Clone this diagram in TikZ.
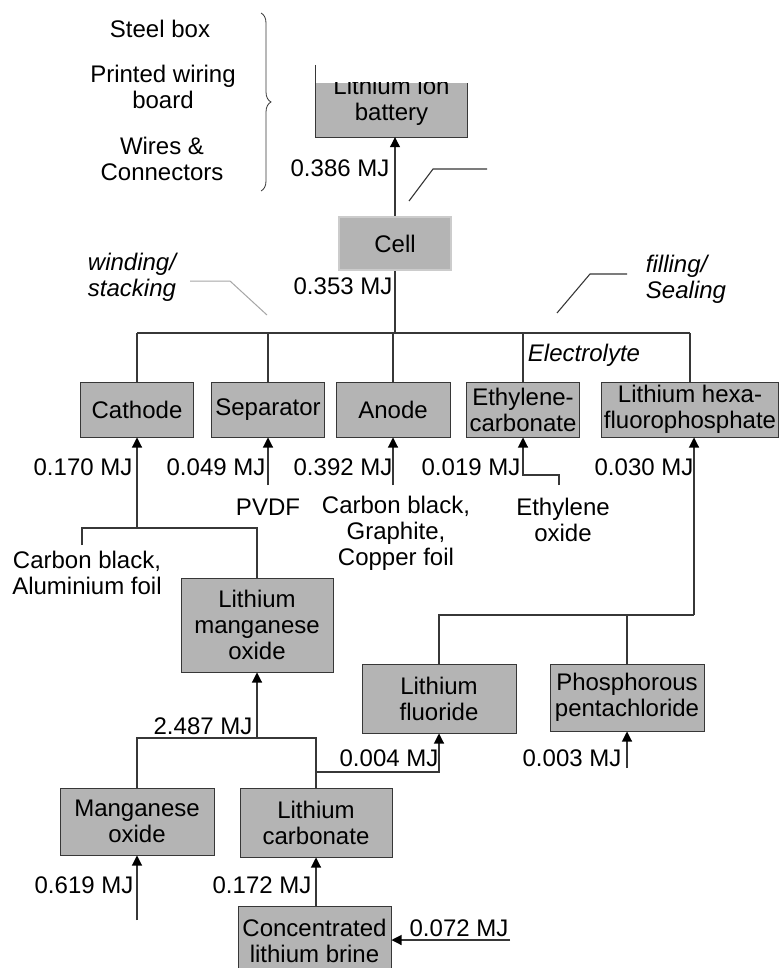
\documentclass[tikz,border=0pt]{standalone}
\usepackage{fontspec}
\setmainfont{Liberation Sans}
\usetikzlibrary{arrows.meta,decorations.pathreplacing}
\definecolor{boxgray}{RGB}{180,180,180}
\definecolor{linegray}{RGB}{55,55,55}

\begin{document}
\begin{tikzpicture}[x=1pt,y=-1pt,
	font=\fontsize{24}{26}\selectfont,
	box/.style={draw=linegray,line width=1pt,fill=boxgray,align=center,inner sep=1pt},
	txt/.style={align=center,inner sep=0pt},
	note/.style={align=left,inner sep=0pt,font=\fontsize{24}{26}\selectfont\itshape},
	link/.style={draw=linegray,line width=1.1pt},
	flow/.style={link,-{Triangle[length=10pt,width=10pt,color=black]}}]
	\useasboundingbox[fill=white] (0,0) rectangle (780,968);
	% left list and brace
	\node[txt] (steel) at (160,29) {Steel box};
	\node[txt] (pwb) at (163,87) {Printed wiring\\board};
	\node[txt] (wires) at (162,159) {Wires \&\\Connectors};
	\draw[link,line width=0.8pt,decorate,decoration={brace,amplitude=10pt}] (261,13) -- (261,191);
	% battery, top cut off
	\node[inner sep=0pt,minimum width=151,minimum height=54] (battery) at (391.5,110) {};
	\fill[boxgray] (battery.north west) rectangle (battery.south east);
	\draw[link] (battery.north west) ++(0,-18) -- (battery.south west) -- (battery.south east) -- (battery.north east);
	\begin{scope}
		\clip (battery.north west) rectangle (battery.south east);
		\node[txt] (battxt) at (391.5,101) {Lithium ion\\battery};
	\end{scope}
	\node[box,draw=black!20,line width=2pt,minimum width=112,minimum height=53] (cell) at (395,243.5) {Cell};
	\draw[flow] (cell.north) -- (cell.north |- battery.south);
	\node[txt] (e386) at (340,168) {0.386 MJ};
	\draw[link] (409,201) -- (433,169) -- (487,169);
	% cell level
	\node[note] (wind) at (132,277) {winding/\\stacking};
	\draw[draw=black!35,line width=1pt] (190,281) -- (230,281) -- (267,315);
	\node[txt] (e353) at (343,286) {0.353 MJ};
	\node[note] (fill) at (686,279) {filling/\\Sealing};
	\draw[link] (557,313) -- (590,274) -- (627,274);
	% components
	\node[box,minimum width=113,minimum height=55] (cathode) at (137,409.5) {Cathode};
	\node[box,minimum width=113,minimum height=55] (separator) at (268,409.5) {Separator};
	\node[box,minimum width=114,minimum height=55] (anode) at (393,409.5) {Anode};
	\node[box,minimum width=113,minimum height=55] (ethyl) at (523,409.5) {Ethylene-\\carbonate};
	\node[box,minimum width=177,minimum height=55] (lipf) at (690,409.5) {Lithium hexa-\\fluorophosphate};
	\coordinate (bus) at (395,333);
	\draw[link] (cell.south) -- (bus);
	\draw[link] (cathode.north |- bus) -- (lipf.north |- bus);
	\foreach \n in {cathode,separator,anode,ethyl,lipf}
		\draw[link] (\n.north |- bus) -- (\n.north);
	\node[note] (elyte) at (584,355) {Electrolyte};
	% inputs to components
	\node[txt] (e170) at (83,467) {0.170 MJ};
	\node[txt] (e049) at (216,467) {0.049 MJ};
	\node[txt] (e392) at (343,467) {0.392 MJ};
	\node[txt] (e019) at (471,467) {0.019 MJ};
	\node[txt] (e030) at (644,467) {0.030 MJ};
	\coordinate (pvdfin) at (268,485);
	\coordinate (anin) at (393,485);
	\coordinate (eoin) at (559,485);
	\draw[flow] (pvdfin) -- (separator.south);
	\draw[flow] (anin) -- (anode.south);
	\draw[flow] (eoin) -- ++(0,-10) -| (ethyl.south);
	\node[txt] (pvdf) at (268,507) {PVDF};
	\node[txt] (cgc) at (396,533) {Carbon black,\\Graphite,\\Copper foil};
	\node[txt] (eo) at (563,520) {Ethylene\\oxide};
	% cathode branch
	\node[box,minimum width=152,minimum height=94] (lmo) at (257,625) {Lithium\\manganese\\oxide};
	\coordinate (cj) at (137,528);
	\coordinate (cbal) at (82,545);
	\draw[link] (cbal) |- (lmo.north |- cj) -- (lmo.north);
	\draw[flow] (cj) -- (cathode.south);
	\node[txt] (cba) at (87,573) {Carbon black,\\Aluminium foil};
	% electrolyte salt branch
	\node[box,minimum width=154,minimum height=69] (lif) at (439,698.5) {Lithium\\fluoride};
	\node[box,minimum width=154,minimum height=67] (pcl) at (627,697.5) {Phosphorous\\pentachloride};
	\coordinate (lbus) at (694,615);
	\draw[link] (lif.north) |- (lbus);
	\draw[link] (pcl.north) -- (pcl.north |- lbus);
	\draw[flow] (lbus) -- (lbus |- lipf.south);
	\coordinate (pclin) at (627,768);
	\draw[flow] (pclin) -- (pcl.south);
	\node[txt] (e003) at (572,758) {0.003 MJ};
	% raw materials
	\node[box,minimum width=154,minimum height=67] (mno) at (137,821.5) {Manganese\\oxide};
	\node[box,minimum width=152,minimum height=69] (lico) at (316,822.5) {Lithium\\carbonate};
	\coordinate (mj) at (257,738);
	\draw[link] (mno.north) |- (lico.north |- mj) -- (lico.north);
	\draw[flow] (mj) -- (lmo.south);
	\node[txt] (e2487) at (203,726) {2.487 MJ};
	\coordinate (lfj) at (316,772);
	\draw[flow] (lfj) -| (lif.south);
	\node[txt] (e004) at (389,758) {0.004 MJ};
	\coordinate (mnin) at (137,920);
	\draw[flow] (mnin) -- (mno.south);
	\node[txt] (e619) at (84,885) {0.619 MJ};
	\node[box,minimum width=153,minimum height=70] (brine) at (314.5,941) {Concentrated\\lithium brine};
	\draw[flow] (brine.north -| lico.south) -- (lico.south);
	\node[txt] (e172) at (262,885) {0.172 MJ};
	\coordinate (brin) at (510,940);
	\draw[flow] (brin) -- (brine.east |- brin);
	\node[txt] (e072) at (459,928) {0.072 MJ};
\end{tikzpicture}
\end{document}
